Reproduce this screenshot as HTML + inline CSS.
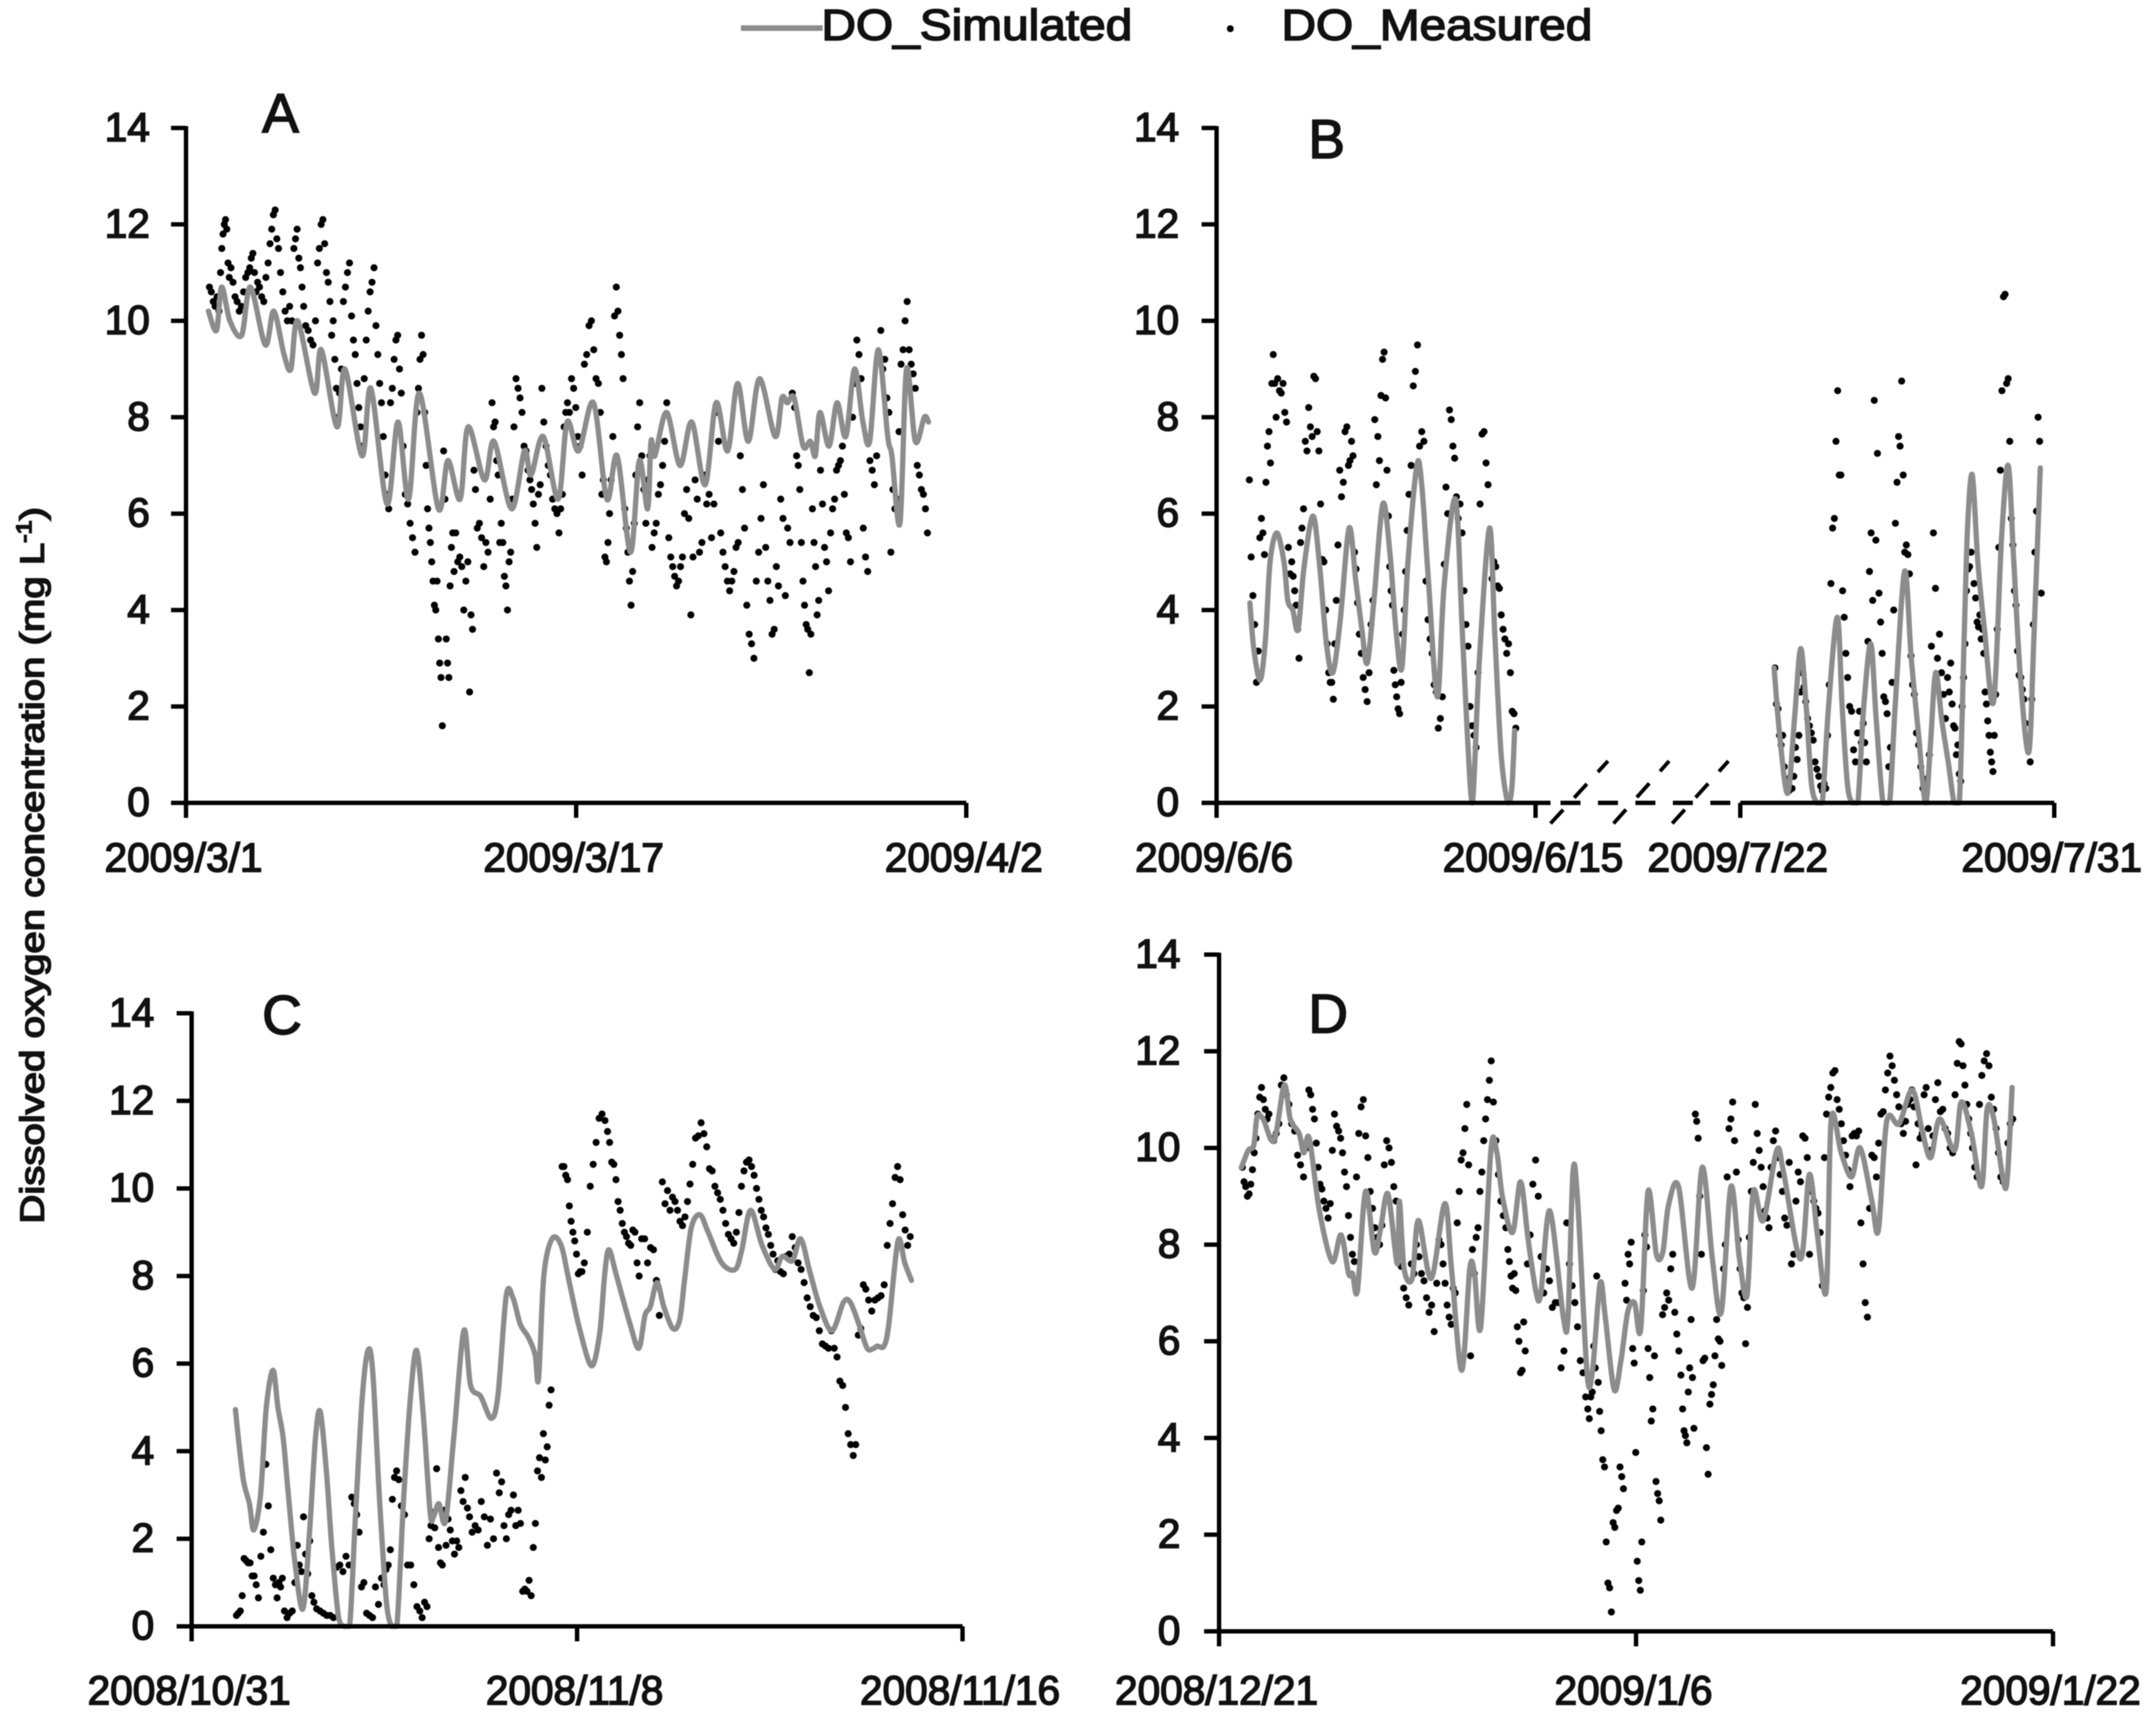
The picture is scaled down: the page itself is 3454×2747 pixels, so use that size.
<!DOCTYPE html>
<html lang="en">
<head>
<meta charset="utf-8">
<title>Dissolved oxygen simulated vs measured</title>
<style>
html,body{margin:0;padding:0;background:#fff;}
svg{display:block;filter:blur(0.9px);}
text{font-family:"Liberation Sans",sans-serif;fill:#111;stroke:#111;stroke-width:2.4px;}
</style>
</head>
<body>
<svg id="chart" xmlns="http://www.w3.org/2000/svg" width="3454" height="2747" viewBox="0 0 3454 2747">
  <rect x="0" y="0" width="3454" height="2747" fill="#fff"/>
  <g>
    <line x1="1187" y1="45" x2="1318" y2="45" stroke="#8c8c8c" stroke-width="9"/>
    <text x="1316" y="64" font-size="70" textLength="498" lengthAdjust="spacingAndGlyphs">DO_Simulated</text>
    <circle cx="1971" cy="46" r="5.5" fill="#000"/>
    <text x="2053" y="64" font-size="70" textLength="498" lengthAdjust="spacingAndGlyphs">DO_Measured</text>
  </g>
  <text transform="translate(70,1386) rotate(-90)" text-anchor="middle" font-size="54" textLength="1148" lengthAdjust="spacingAndGlyphs">Dissolved oxygen concentration  (mg L<tspan dy="-20" font-size="34">-1</tspan><tspan dy="20">)</tspan></text>
  <g id="plots"></g>
</svg>
<script>
const yTickValues = [0, 2, 4, 6, 8, 10, 12, 14];

const panelATickDays = [0, 16, 32];
const panelATickLabels = ["2009/3/1", "2009/3/17", "2009/4/2"];
const panelASimDays = [0.92,1.25,1.46,1.80,2.28,2.64,3.25,3.60,4.02,4.30,4.58,5.27,5.55,6.19,6.52,7.22,7.58,8.24,8.69,9.13,9.57,10.35,10.74,11.24,11.57,12.24,12.63,13.35,13.88,14.15,14.65,15.26,15.63,16.10,16.71,17.26,17.68,18.23,18.59,18.93,19.07,19.23,19.71,20.26,20.74,21.29,21.74,22.21,22.62,23.06,23.52,24.16,24.44,24.66,24.94,25.31,25.61,25.81,26.00,26.37,26.70,27.06,27.42,27.76,28.04,28.39,28.78,28.95,29.28,29.55,29.91,30.28,30.45];
const panelASimValues = [10.2,9.8,10.7,10.0,9.7,10.7,9.5,10.2,9.3,9.0,10.0,8.5,9.4,7.8,9.0,7.2,8.6,6.2,7.9,6.3,8.5,6.1,7.1,6.3,7.8,6.7,7.5,6.1,7.3,6.8,7.6,6.3,7.9,7.3,8.3,6.3,7.2,5.2,7.1,6.1,7.5,7.2,8.1,7.0,7.9,6.6,8.3,7.3,8.7,7.5,8.8,7.6,8.4,8.3,8.4,7.4,7.5,7.2,8.1,7.4,8.3,7.6,9.0,7.9,7.5,9.4,7.6,7.2,5.8,9.0,7.5,8.0,7.9];
const panelAMeasuredEdges = [0.92,1.39,1.80,2.14,2.58,2.97,3.41,3.83,4.39,4.86,5.36,5.94,6.33,6.83,7.27,7.83,8.35,8.94,9.44,9.88,10.27,11.02,11.6,11.9,12.52,12.96,13.41,14.07,14.63,15.26,15.68,16.29,16.96,17.4,17.96,18.48,19.07,19.76,20.4,21.01,21.7,22.34,22.95,23.73,24.34,25.01,25.53,25.98,26.56,27.12,27.73,28.37,28.95,29.7,30.45];
const panelAMeasuredValues = [
[10.7,10.6,10.4,10.3,10.5,10.2],[11.0,11.5,11.8,12.0,12.1,11.9,11.2,10.9],[11.1,10.8,10.5,10.4],[10.2,10.3,10.6,10.9,11.0],[11.1,11.3,11.4,11.0,10.6,10.8],[10.7,10.5,10.4,10.9,11.2],[11.6,11.9,12.2,12.3,11.7,11.5],[11.0,10.6,10.2,10.0,10.3,10.0],[11.5,11.7,11.9,11.3,11.1,10.7,10.3],[9.9,9.8,9.6,9.5,10.0],
[11.2,11.5,12.0,12.1,11.6,11.0,10.8,10.4],[9.7,10.0,9.2,8.6,8.0,8.5],[9.0,10.4,10.7,11.0,11.2,10.1],[9.6,9.3,8.7,8.2,7.8,7.4],[8.8,9.6,10.2,10.6,10.8,11.1,9.9],[9.3,8.7,8.3,7.6,6.8,6.4,6.1],[8.3,8.6,9.2,9.6,9.7,9.0,8.5,7.4],[6.4,6.2,5.8,5.5,5.2],[8.1,8.6,9.2,9.7,9.3,8.1,7.0],[6.1,5.7,5.4,5.0,4.6,4.1,4.0],
[4.6,3.4,2.9,2.6,1.6,7.3,6.3,3.4,2.9,2.6,4.5,5.3,5.6,4.8],[5.6,5.0,5.1,4.9,4.0,4.6,5.0],[2.3,3.9,3.6,6.9,6.5],[5.7,5.8,5.5,4.9,5.4,5.2,6.3],[8.3,7.8,7.9,7.1,6.8,5.4,5.8],[5.4,4.7,4.5,4.0,5.0,5.2,6.3],[7.8,8.8,8.6,8.4,8.1,7.4,7.3,6.9],[6.7,6.5,6.2,5.8,5.3,6.4,6.6,8.6],[7.9,7.4,7.0,6.8,6.3,6.1,6.0],[5.6,6.1,6.4,7.8,8.1,8.3],
[8.1,8.8,8.6,8.2,7.6,7.4,6.8],[9.1,9.3,9.9,10.0,9.4,8.8,8.7],[8.1,6.4,6.7,5.1,5.0,5.4,6.0],[6.7,7.6,10.1,10.7,10.2,9.7,9.3,8.8],[6.1,5.7,5.2,4.6,4.1,4.8,5.8,6.8],[7.8,8.3,7.2,6.5,5.8,6.7,7.2],[5.3,5.6,5.8,6.4,6.6,7.0,7.5,8.3],[5.5,5.1,4.9,4.7,4.5,4.6,4.9,5.1],[6.0,6.5,5.9,3.9,5.1,6.7,6.3],[5.2,5.4,6.8,6.2,6.4,5.5,6.2],
[8.1,7.5,5.6,5.2,4.9,4.6,4.4],[4.6,4.8,5.3,5.4,7.2,6.5,5.7],[4.1,3.5,3.3,3.0,4.6,5.2,5.9,6.6],[5.3,4.6,4.2,3.5,3.6,4.9,4.5],[6.3,5.9,4.3,5.7,5.4,8.5,8.2],[7.2,7.0,6.5,5.4,4.6,4.1,3.7,3.6],[2.7,3.5,6.1,5.4,4.9,3.9,4.2],[6.9,6.2,5.3,5.0,4.4,5.6,6.1],[6.3,6.9,7.0,7.1,7.4,6.4,5.6],[5.5,5.0,8.0,8.7,9.6,9.3,8.8],
[5.7,5.1,4.8,7.1,6.9,6.6,7.2],[9.3,9.8,9.0,9.2,8.4,8.1,5.2],[6.5,6.1,6.3,7.7,9.1,9.4,10.0,10.4,9.4],[9.1,8.9,8.6,7.0,6.8,6.5,6.4,6.1,5.6]];

const panelBLeftSimDays = [0.94,1.05,1.23,1.38,1.51,1.70,1.90,2.01,2.15,2.30,2.47,2.72,2.91,3.10,3.28,3.49,3.74,3.93,4.10,4.25,4.44,4.69,4.89,5.06,5.23,5.40,5.65,5.79,5.98,6.23,6.42,6.74,6.93,7.07,7.22,7.41,7.70,7.85,8.03,8.22,8.33,8.41];
const panelBLeftSimValues = [4.15,3.2,2.55,3.4,5.0,5.6,5.0,4.2,4.0,3.6,4.9,5.95,4.9,3.3,2.7,3.8,5.7,4.6,3.6,2.9,4.2,6.2,5.2,3.6,2.8,5.0,7.0,6.6,4.6,2.2,4.5,6.3,3.6,1.5,0,2.9,5.7,3.5,1.0,0,0.3,1.5];
const panelBLeftMeasuredEdges = [0.9,1.2,1.5,1.7,2.1,2.43,2.72,3.1,3.4,3.7,4.0,4.44,4.75,5.1,5.4,5.88,6.4,6.84,7.35,7.8,8.47];
const panelBLeftMeasuredValues = [[6.7,5.1,4.3,3.7,2.5,3.15],[5.5,5.9,5.6,5.15,6.65,7.4,7.7],[7.05,8.7,9.3,8.7,8.0],[8.8,8.55,8.5,8.7,8.1,7.9,5.3,4.75],[5.0,4.7,4.4,4.1,3.6,3.0,5.4,5.7],[6.1,7.5,7.3,8.2,7.8,7.6],[8.85,8.8,7.7,7.3,6.2,5.05,5.0,4.0],[3.3,2.7,2.5,2.5,2.15,3.3,4.2],[5.35,6.9,6.35,6.65,7.7,7.8],[7.0,7.1,7.5,7.2,5.2,4.85,4.15],[3.5,3.1,2.6,2.35,2.1,2.7,3.7,4.2],[7.95,6.6,7.6,7.1,8.45,9.2,9.35],[8.4,6.9,5.95,4.9,4.4,4.1,2.75,2.45,2.2],[1.95,1.85,2.5,3.5,4.0,4.8,5.65],[6.4,7.0,8.65,8.95,9.5,7.4,7.7,7.5],[4.6,3.8,3.4,3.1,2.45,2.3,1.55,1.75,2.2],[4.95,6.55,6.0,8.15,7.95,7.4,7.15,6.35,5.9],[6.2,5.6,4.4,3.7,3.25,2.0,1.6,1.4,1.15],[2.7,6.2,7.65,7.7,7.05,6.6,5.35,4.65],[5.0,4.9,4.5,4.45,3.9,3.6,3.4,3.1,3.3,2.7,1.9,1.85,1.55]];
const panelBRightSimDays = [0.97,1.13,1.36,1.56,1.73,1.89,2.04,2.2,2.35,2.53,2.78,2.92,3.07,3.21,3.37,3.54,3.74,3.89,4.09,4.28,4.44,4.71,4.90,5.10,5.31,5.45,5.60,5.78,5.97,6.13,6.28,6.42,6.52,6.65,6.81,7.0,7.26,7.49,7.68,7.84,8.03,8.27,8.42,8.60];
const panelBRightSimValues = [2.8,1.4,0.2,1.8,3.2,2.0,0.4,0,0,2.0,3.85,2.0,0.4,0,0,2.0,3.3,1.8,0,0,2.0,4.8,3.0,1.5,0,1.2,2.7,1.7,0.8,0,0,3.5,5.8,6.8,5.0,3.6,2.1,5.5,7.0,5.0,2.6,1.05,3.5,6.95];
const panelBRightMeasuredEdges = [0.97,1.46,1.85,2.33,2.72,3.05,3.5,4.09,4.47,4.96,5.45,5.97,6.42,6.81,7.3,7.88,8.65];
const panelBRightMeasuredValues = [[2.8,2.05,1.95,1.4,1.2,1.4,0.75,0.5,0.25,0.25,0.3],[0.3,0.55,1.15,0.9,1.4,2.3,2.7,2.4],[2.1,1.75,1.6,1.45,1.3,0.85,0.7,0.55,0.35],[0.25,0.4,0.3,1.4,2.45,4.55,5.7,5.9],[7.5,8.55,6.8,6.8,4.4,3.85,3.1],[2.6,2.0,1.9,1.1,0.85,1.45,1.9,1.25],[1.65,1.25,0.85,3.35,4.8,5.6,4.2,8.35,5.45,7.25,4.35,3.75,3.1],[2.2,2.1,1.85,0.75,1.15,2.5,4.0,5.8],[6.65,7.6,7.4,8.75,6.8,5.2,5.35,5.15,4.75,3.05,2.45],[2.25,1.45,1.2,0.75,0.3,0.2,0.5,1.0],[3.25,5.6,4.45,3.0,3.5,2.7,2.25,1.75,2.6],[2.3,2.9,2.05,1.6,1.55,1.0,1.2,0.6,0.45,2.0,2.6],[3.3,4.4,4.85,4.9,5.2,6.55,4.55,4.25,3.75],[3.65,3.9,3.4,3.6,3.1,2.3,2.05,1.7,1.4,1.05,0.85,0.65,1.4],[2.25,3.6,5.3,6.9,8.55,10.5,10.55,8.7,8.8,7.5,5.9,5.35,4.4],[4.1,3.15,2.65,2.6,2.35,2.15,1.65,1.3,1.25,0.85,2.15,3.7,5.2,6.05,8.0,7.5,4.35]];
const panelBLeftTickDays = [0, 9];
const panelBLeftTickLabels = ["2009/6/6", "2009/6/15"];
const panelBRightTickDays = [0, 9];
const panelBRightTickLabels = ["2009/7/22", "2009/7/31"];

const panelCTickDays = [0, 8, 16];
const panelCTickLabels = ["2008/10/31", "2008/11/8", "2008/11/16"];
const panelCSimDays = [0.91,0.98,1.08,1.2,1.29,1.43,1.55,1.69,1.79,1.90,2.0,2.14,2.31,2.45,2.57,2.67,2.80,2.91,3.05,3.16,3.28,3.40,3.54,3.66,3.76,3.90,4.04,4.15,4.26,4.40,4.54,4.67,4.81,4.95,5.02,5.13,5.27,5.44,5.65,5.79,6.0,6.22,6.36,6.53,6.67,6.82,6.99,7.13,7.2,7.31,7.48,7.67,7.83,8.05,8.3,8.47,8.57,8.66,8.82,9.1,9.28,9.41,9.52,9.66,9.8,9.99,10.13,10.23,10.37,10.55,10.72,11.0,11.28,11.42,11.6,11.84,12.1,12.26,12.47,12.64,12.83,13.04,13.29,13.53,13.67,13.85,14.02,14.16,14.23,14.37,14.47,14.66,14.8,14.94];
const panelCSimValues = [4.95,4.2,3.3,2.8,2.2,3.0,5.0,5.85,5.0,4.3,3.1,1.5,0.4,2.2,4.3,4.9,3.5,1.8,0.2,0,0,2.5,5.2,6.3,5.8,2.9,0.6,0,0,2.9,5.2,6.3,4.8,2.6,2.5,2.8,2.4,4.3,6.75,5.5,5.25,4.75,5.3,7.55,7.5,6.9,6.6,6.2,5.65,8.0,8.85,8.7,7.9,6.8,5.95,6.7,8.0,8.6,8.0,6.9,6.35,7.1,7.3,7.85,7.3,6.8,7.0,7.9,9.1,9.4,9.0,8.3,8.15,8.6,9.5,8.7,8.15,8.45,8.35,8.85,8.1,7.3,6.75,7.4,7.4,6.9,6.35,6.35,6.4,6.4,6.9,8.8,8.3,7.9];
const panelCMeasuredEdges = [0.91,1.11,1.36,1.72,1.9,2.17,2.56,2.98,3.3,3.6,3.97,4.32,4.71,4.91,5.3,5.79,6.36,6.85,7.2,7.48,7.67,8.12,8.61,8.96,9.31,9.8,10.37,10.72,11.28,11.7,12.19,12.68,13.25,13.6,14.02,14.47,14.94];
const panelCMeasuredValues = [[0.25,0.3,0.35,0.7,1.55],[1.5,1.45,1.45,1.15,1.15,0.95],[0.65,1.6,2.15,3.7,2.75,1.75,1.1],[0.95,0.65,1.0,0.9,1.1],[0.35,0.2,0.3,0.35,1.0],[1.85,1.4,1.25,2.5,1.65,1.2,1.95,0.7,0.55],[0.4,0.35,0.3,0.25,0.25,0.2],[1.35,1.4,1.25,1.6,1.4],[2.95,2.8,2.55,2.15,0.9,1.0],[0.3,0.25,0.2,0.9,0.5,1.1],[0.95,1.3,1.4,1.75,2.9,3.4,3.55,3.35],[2.75,2.55,1.4,1.4,0.95,0.45],[0.35,0.2,0.55,0.45],[2.0,2.3,2.6,2.25,3.6,1.8,1.45,1.4,2.65,1.85],[2.45,2.2,1.95,1.65,1.95,1.8,3.1,2.85,3.4,2.7,2.5],[2.15,2.3,2.2,2.85,2.5,1.85,2.45,2.0,3.5],[3.05,3.3,2.3,2.0,2.55,2.65,3.0,2.3,2.65,2.35],[0.8,0.85,0.8,1.05,0.7,1.8,2.35,3.55],[3.85,3.4,4.4,3.8,4.1,5.05,5.4],[],[10.5,10.5,10.3,10.2,9.6,9.25,9.0,8.8,8.5,8.05,8.1,8.1],[8.3,9.0,10.05,10.55,11.05,11.6,11.7,11.55],[11.3,11.05,10.6,10.55,10.2,9.7,9.5,9.2],[9.0,8.9,8.75,8.7,9.05,9.0,8.3,8.0],[8.85,8.85,8.3,8.65,8.6,7.9,7.1,10.15],[9.65,9.95,9.5,9.8,9.7,9.5,9.25,9.15,9.35,9.7,10.1],[10.55,11.15,11.2,11.5,11.25,10.95],[10.45,10.4,10.05,9.9,9.75,9.5,9.2,8.95,8.85,8.75],[9.0,9.45,10.05,10.4,10.6,10.65,10.5,10.3],[10.0,9.75,9.5,9.35,9.1,8.95,8.7,8.5,8.15,8.35],[8.1,8.05,8.45,8.5,8.9,8.65,8.3,8.15],[7.85,7.5,7.3,7.1,7.05,6.75,6.45,6.4,6.35],[6.75,6.35,6.15,5.6,5.5,5.0],[4.4,4.15,3.9,4.15,6.65,6.8,7.8,7.7],[7.45,7.2,7.45,7.5,7.55,7.8,8.7],[9.2,9.65,10.25,10.5,10.2,9.4,9.05,8.7,8.9]];

const panelDTickDays = [0, 16, 32];
const panelDTickLabels = ["2008/12/21", "2009/1/6", "2009/1/22"];
const panelDSimDays = [0.86,1.12,1.33,1.46,1.69,2.11,2.5,2.73,3.07,3.25,3.46,3.85,4.34,4.68,4.97,5.12,5.31,5.62,5.96,6.19,6.48,6.84,6.92,7.1,7.41,7.65,8.14,8.66,8.92,9.31,9.62,9.8,10.04,10.43,10.66,10.87,11.26,11.57,11.86,12.17,12.35,12.69,13.21,13.39,13.58,13.76,14.12,14.33,14.62,14.82,15.16,15.42,15.68,15.94,16.18,16.46,16.78,17.03,17.24,17.63,18.15,18.54,18.93,19.27,19.64,19.97,20.26,20.5,20.88,21.4,21.66,22.31,22.65,22.96,23.3,23.49,23.87,24.27,24.6,25.05,25.3,25.62,26.09,26.6,27.0,27.31,27.65,28.22,28.48,28.87,29.26,29.47,29.73,30.1,30.25,30.43];
const panelDSimValues = [9.6,9.95,10.05,10.65,10.6,10.15,11.3,10.6,10.3,9.9,10.2,8.7,7.65,8.2,7.4,7.4,7.05,9.1,7.85,8.3,9.05,7.6,8.9,7.5,7.3,8.5,7.3,8.85,7.5,5.4,7.5,7.4,6.3,9.95,9.9,9.0,8.25,9.3,8.1,7.0,7.0,8.7,6.5,6.5,9.5,8.9,5.35,5.4,7.2,6.5,5.0,5.6,6.6,6.8,6.25,9.1,7.8,7.85,8.8,9.2,7.1,9.6,7.7,6.6,9.2,7.7,6.95,9.1,8.5,9.95,9.5,7.7,9.45,8.2,7.05,10.6,9.9,9.4,10.0,8.9,8.3,10.55,10.5,11.2,10.3,9.8,10.6,9.95,10.95,10.3,9.2,10.8,10.6,9.3,9.4,11.25];
const panelDMeasuredEdges = [0.86,1.38,1.95,2.73,3.41,3.98,4.55,5.23,5.93,6.84,7.62,8.4,9.18,9.83,10.48,11.05,11.78,12.51,13.29,14.12,14.69,15.55,16.25,16.98,17.76,18.41,19.32,20.31,21.14,21.92,22.7,23.35,24.0,24.92,25.7,26.47,27.25,28.29,28.95,29.86,30.5];
const panelDMeasuredValues = [[9.6,9.3,9.2,9.0,9.05,9.25,9.55,9.9],[10.2,10.7,11.05,11.25,11.0,10.8,10.6,10.7],[10.2,10.15,10.3,10.5,11.3,11.45,11.1,10.9],[10.5,10.35,9.85,9.65,9.4,10.0],[11.2,11.1,10.8,10.6,10.1,9.6,9.25,9.15],[8.9,8.75,8.55,8.85,9.95,10.7,10.45],[10.35,10.2,9.9,9.5,9.2,8.6,8.15,7.8,7.65],[9.4,10.3,10.85,11.0,10.25,9.8,9.1,8.75],[8.35,8.15,8.0,8.4,9.65,10.15,10.0,9.7,9.2,8.9],[8.1,7.55,7.1,6.9,6.75,7.6,7.4,8.0],[7.75,7.4,7.25,6.9,6.6,6.75,6.2,7.2],[8.1,8.0,7.6,7.2,6.75,6.5,6.35,7.1,7.0,8.45],[9.1,9.75,9.9,10.4,10.9,9.65,5.7,7.9,7.4],[8.15,8.35,9.1,9.5,10.15,10.6,11.0,11.4,11.8],[10.95,10.15,9.45,8.9,8.6,8.35],[7.9,7.65,7.35,7.1,7.4,7.05,6.3,6.0,5.35,5.4,6.4,5.8],[7.6,8.2,9.25,9.75,9.0,7.75,7.0],[7.5,7.25,6.7,6.8,6.8,5.45,5.8],[8.45,7.6,7.15,6.8,6.3,5.6,5.35,4.85],[4.6,4.4,4.85,4.95,5.9,5.45,7.35,5.15,4.55,4.15],[3.55,3.4,1.85,1.0,0.9,0.4,2.25,2.15,2.5,2.55,3.4,3.2,2.95],[7.2,6.85,7.8,7.6,8.05,5.85,5.55,3.7,1.45,1.05,0.85,1.85],[7.05,8.2,7.95,5.85,5.25,4.35,4.6,5.7,3.1,2.85,2.7,2.3],[6.55,6.7,7.0,6.85,7.5,7.8,6.6,6.15,5.8,5.3],[4.6,4.15,4.05,3.9,4.95,5.45,6.45,5.25,4.2,10.7,10.55,10.2],[9.0,7.8,5.6,5.65,3.8,3.25,4.7,4.9,5.1,5.7,6.45,6.05,6.0,5.5],[7.5,8.0,9.4,10.4,10.6,10.95,10.15,9.5,8.1,7.5,7.0,6.9,5.95,6.7],[8.15,9.1,9.7,10.9,10.3,9.95,9.6,9.2,8.7,8.55,8.35],[9.6,10.15,10.35,9.8,9.45,9.1,8.55,8.4,9.7],[7.6,7.8,8.9,9.5,9.3,10.25,10.2,9.8,7.8],[9.1,8.9,8.75,8.65,8.25,7.15,9.8,10.7],[11.05,11.25,11.55,11.6,11.0,10.8,10.5,10.15],[9.85,9.55,9.2,10.25,10.3,10.25,10.35,8.45,7.6,6.8,6.5],[8.75,9.85,9.8,9.4,10.1,10.7,10.75,11.2,11.55],[11.9,11.7,11.4,11.1,10.85,10.5,10.3,10.55,10.9],[11.0,11.2,10.85,9.65,10.5,10.2,10.3,11.1,11.25,10.4],[9.95,10.25,11.0,11.35,10.75,10.8,10.4,10.3,10.0,9.9,11.1],[11.75,12.2,12.15,11.7,11.3,10.9,10.6,10.3,10.0],[9.6,9.4,10.9,11.5,11.8,11.95,11.7,11.05,10.8,10.4],[9.9,9.4,9.3,9.3,10.1,10.5,10.6]];

const SVG_NS = "http://www.w3.org/2000/svg";
const plots = document.getElementById("plots");
const GREY = "#8c8c8c";
const AXIS_W = 7;
const TICK_LEN = 24;

function make(tag, attrs, parent) {
  const el = document.createElementNS(SVG_NS, tag);
  for (const k in attrs) el.setAttribute(k, attrs[k]);
  (parent || plots).appendChild(el);
  return el;
}
function linearScale(d0, d1, r0, r1) {
  return v => r0 + (v - d0) / (d1 - d0) * (r1 - r0);
}
function smoothPath(xs, ys, maxY) {
  let d = "M" + xs[0].toFixed(1) + " " + ys[0].toFixed(1);
  const t = 0.16;
  for (let i = 0; i < xs.length - 1; i++) {
    const p0 = Math.max(i - 1, 0), p3 = Math.min(i + 2, xs.length - 1);
    const c1x = xs[i] + (xs[i + 1] - xs[p0]) * t;
    const c1y = Math.min(ys[i] + (ys[i + 1] - ys[p0]) * t, maxY);
    const c2x = xs[i + 1] - (xs[p3] - xs[i]) * t;
    const c2y = Math.min(ys[i + 1] - (ys[p3] - ys[i]) * t, maxY);
    d += "C" + c1x.toFixed(1) + " " + c1y.toFixed(1) + " " + c2x.toFixed(1) + " " + c2y.toFixed(1) + " " + xs[i + 1].toFixed(1) + " " + ys[i + 1].toFixed(1);
  }
  return d;
}
function drawMeasured(group, x, y, edges, values) {
  values.forEach((bin, i) => {
    bin.forEach((v, j) => {
      const day = edges[i] + (edges[i + 1] - edges[i]) * (j + 0.5) / bin.length;
      const c = make("circle", { cx: x(day).toFixed(1), cy: y(v).toFixed(1), r: 5.6, fill: "#000" }, group);
      
      
    });
  });
}
function drawSim(group, x, y, days, values) {
  const p = make("path", {
    d: smoothPath(days.map(x), values.map(y), y(0)),
    fill: "none", stroke: GREY, "stroke-width": 8.5, "stroke-linejoin": "round", "stroke-linecap": "round"
  }, group);
  
  
}
function drawYAxis(group, axisX, y, labelRight) {
  const line = make("line", { x1: axisX, x2: axisX, y1: y(14) - 3, y2: y(0) + 3, stroke: "#000", "stroke-width": AXIS_W }, group);
  
  
  yTickValues.forEach(v => {
    const t = make("line", { x1: axisX - TICK_LEN, x2: axisX, y1: y(v), y2: y(v), stroke: "#000", "stroke-width": AXIS_W }, group);
    
    
    const l = make("text", { x: labelRight, y: y(v) + 21, "text-anchor": "end", "font-size": 65 }, group);
    
    
    l.textContent = v;
  });
}
function drawXAxis(group, x, y0, tickDays, tickLabels, labelY, lineFrom, lineTo) {
  const line = make("line", { x1: lineFrom, x2: lineTo, y1: y0, y2: y0, stroke: "#000", "stroke-width": AXIS_W }, group);
  
  
  tickDays.forEach((d, i) => {
    const t = make("line", { x1: x(d), x2: x(d), y1: y0, y2: y0 + TICK_LEN, stroke: "#000", "stroke-width": AXIS_W }, group);
    
    
    const l = make("text", { x: x(d) - 4, y: labelY, "text-anchor": "middle", "font-size": 65 }, group);
    
    
    l.textContent = tickLabels[i];
  });
}
function panelLetter(group, ch, px, py) {
  const l = make("text", { x: px, y: py, "font-size": 88, "stroke-width": 0.5 }, group);
  
  
  l.textContent = ch;
}

/* Panel A */
{
  const g = make("g", {});
  
  
  const x = linearScale(0, 32, 298, 1548), y = linearScale(0, 14, 1286, 205);
  drawMeasured(g, x, y, panelAMeasuredEdges, panelAMeasuredValues);
  drawSim(g, x, y, panelASimDays, panelASimValues);
  drawYAxis(g, 298, y, 240);
  drawXAxis(g, x, 1286, panelATickDays, panelATickLabels, 1396, 298, 1548);
  panelLetter(g, "A", 420, 212);
}
/* Panel B (broken axis) */
{
  const g = make("g", {});
  
  
  const xL = linearScale(0, 9, 1949, 2460), xR = linearScale(0, 9, 2788, 3291), y = linearScale(0, 14, 1286, 205);
  drawMeasured(g, xL, y, panelBLeftMeasuredEdges, panelBLeftMeasuredValues);
  drawMeasured(g, xR, y, panelBRightMeasuredEdges, panelBRightMeasuredValues);
  drawSim(g, xL, y, panelBLeftSimDays, panelBLeftSimValues);
  drawSim(g, xR, y, panelBRightSimDays, panelBRightSimValues);
  drawYAxis(g, 1949, y, 1889);
  drawXAxis(g, xL, 1286, panelBLeftTickDays, panelBLeftTickLabels, 1396, 1949, 2484);
  drawXAxis(g, xR, 1286, panelBRightTickDays, panelBRightTickLabels, 1396, 2788, 3291);
  const dash = make("line", { x1: 2484, x2: 2788, y1: 1286, y2: 1286, stroke: "#000", "stroke-width": AXIS_W, "stroke-dasharray": "32 28", "stroke-dashoffset": -16 }, g);
  
  
  [[2484, 2576], [2585, 2674], [2679, 2769]].forEach(s => {
    const b = make("line", { x1: s[0], y1: 1319, x2: s[1], y2: 1219, stroke: "#000", "stroke-width": 6, "stroke-dasharray": "30 26" }, g);
    
    
  });
  panelLetter(g, "B", 2096, 253);
}
/* Panel C */
{
  const g = make("g", {});
  
  
  const x = linearScale(0, 16, 307, 1542), y = linearScale(0, 14, 2605, 1623);
  drawMeasured(g, x, y, panelCMeasuredEdges, panelCMeasuredValues);
  drawSim(g, x, y, panelCSimDays, panelCSimValues);
  drawYAxis(g, 307, y, 247);
  drawXAxis(g, x, 2605, panelCTickDays, panelCTickLabels, 2730, 307, 1542);
  panelLetter(g, "C", 420, 1656);
}
/* Panel D */
{
  const g = make("g", {});
  
  
  const x = linearScale(0, 32, 1953, 3289), y = linearScale(0, 14, 2613, 1529);
  drawMeasured(g, x, y, panelDMeasuredEdges, panelDMeasuredValues);
  drawSim(g, x, y, panelDSimDays, panelDSimValues);
  drawYAxis(g, 1953, y, 1891);
  drawXAxis(g, x, 2613, panelDTickDays, panelDTickLabels, 2730, 1953, 3289);
  panelLetter(g, "D", 2096, 1654);
}
</script>
</body>
</html>
